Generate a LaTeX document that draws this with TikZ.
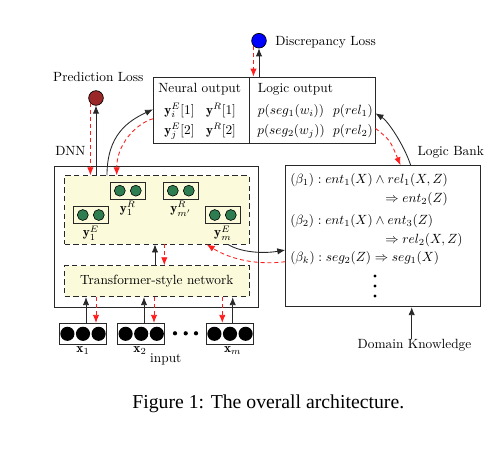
\documentclass[tikz,border=0pt]{standalone}
\usepackage{fontspec}
\newfontfamily\capfont{Liberation Serif}
\usetikzlibrary{arrows.meta,calc}
\definecolor{boxyellow}{RGB}{251,251,220}
\definecolor{dotgreen}{RGB}{46,125,80}
\definecolor{lossred}{RGB}{155,40,40}
\definecolor{fbred}{RGB}{255,30,30}
\definecolor{linegray}{RGB}{40,40,40}
\begin{document}
\begin{tikzpicture}[x=0.75pt,y=-0.75pt,
  frame/.style={draw=linegray, line width=0.65pt, inner sep=0, rectangle},
  pxsize/.style 2 args={minimum width=#1*0.75pt, minimum height=#2*0.75pt},
  dashbox/.style={draw=linegray, fill=boxyellow, dash pattern=on 4pt off 2.6pt, line width=0.65pt, inner sep=0, rectangle},
  lbl/.style={inner sep=0, anchor=base},
  lblw/.style={inner sep=0, anchor=base west},
  fwd/.style={draw=linegray, line width=0.65pt, -{Latex[length=6pt,width=4.8pt]}},
  bwd/.style={draw=fbred, line width=0.65pt, dash pattern=on 3pt off 2.2pt, -{Latex[length=6pt,width=4.8pt]}},
  lossdot/.style={circle, draw, line width=0.5pt, minimum size=11pt, inner sep=0},
  vecbox/.style={draw=linegray, line width=0.65pt, inner sep=0, rectangle},
  gdot/.style={fill=dotgreen, draw=black, line width=0.45pt},
  bdot/.style={fill=black}
]
\path[use as bounding box] (0,0) rectangle (500,450);

% ---- main boxes
\node[frame, pxsize={95.5}{66.5}] (neural) at (201.25,110.25) {};
\node[frame, pxsize={126}{66.5}] (logic) at (312,110.25) {};
\node[frame, pxsize={204}{141}] (dnn) at (156,236.5) {};
\node[dashbox, pxsize={184.5}{68.3}] (inner) at (156.75,209.85) {};
\node[dashbox, pxsize={184.5}{31}] (trans) at (156.75,281.2) {Transformer-style network};
\node[frame, pxsize={194.3}{141}] (bank) at (382.85,236.2) {};

% ---- loss circles
\node[lossdot, fill=lossred] (pred) at (96,98) {};
\node[lossdot, fill=blue] (disc) at (259,40.7) {};

% ---- labels
\node[lbl] (predl) at (98.3,81.7) {Prediction Loss};
\node[lblw] (dnnl) at (55,155) {DNN};
\node[lblw] (discl) at (275,45.7) {Discrepancy Loss};
\node[lblw] (bankl) at (417.3,155) {Logic Bank};
\node[lbl] (dk) at (414.5,348.3) {Domain Knowledge};
\node[lbl] (inputl) at (165.8,362.7) {input};
\node[lbl] (cap) at (268.3,408.3) {\capfont\fontsize{14.8pt}{17pt}\selectfont Figure 1: The overall architecture.};

% ---- output texts
\node[lbl] (nt) at (199.7,92.7) {Neural output};
\node[lbl] (n11) at (179.5,114) {$\mathbf{y}_i^E[1]$};
\node[lbl] (n12) at (221,114) {$\mathbf{y}^R[1]$};
\node[lbl] (n21) at (179.5,134.5) {$\mathbf{y}_j^E[2]$};
\node[lbl] (n22) at (221,134.5) {$\mathbf{y}^R[2]$};
\node[lbl] (lt) at (295.5,92.7) {Logic output};
\node[lbl] (l11) at (291,114) {$p(seg_1(w_i))$};
\node[lbl] (l12) at (353,114) {$p(rel_1)$};
\node[lbl] (l21) at (291,134.5) {$p(seg_2(w_j))$};
\node[lbl] (l22) at (353,134.5) {$p(rel_2)$};

% ---- rules
\node[lblw] (r1) at (290,183.3) {$(\beta_1): ent_1(X) \wedge rel_1(X,Z)$};
\node[lblw] (r1b) at (385,202.7) {$\Rightarrow ent_2(Z)$};
\node[lblw] (r2) at (290,224) {$(\beta_2): ent_1(X) \wedge ent_3(Z)$};
\node[lblw] (r2b) at (385,243.3) {$\Rightarrow rel_2(X,Z)$};
\node[lblw] (rk) at (290,261.7) {$(\beta_k): seg_2(Z) \Rightarrow seg_1(X)$};
\foreach \yy in {276,286,296} \fill (375,\yy) circle[radius=1.3pt];

% ---- output vectors in DNN
\node[vecbox, pxsize={35}{16.7}] (y1E) at (90.8,215) {};
\node[vecbox, pxsize={35}{16.7}] (y1R) at (127.8,190.7) {};
\node[vecbox, pxsize={35}{16.7}] (ymR) at (180.8,190.7) {};
\node[vecbox, pxsize={35}{16.7}] (ymE) at (222.8,215) {};
\foreach \b in {y1E,y1R,ymR,ymE}{
  \filldraw[gdot] ($(\b)+(-8,0)$) circle[radius=4.1pt];
  \filldraw[gdot] ($(\b)+(8,0)$) circle[radius=4.1pt];
}
\node[anchor=north, inner sep=1.2pt] (y1El) at (y1E.south) {$\mathbf{y}_1^E$};
\node[anchor=north, inner sep=1.2pt] (y1Rl) at (y1R.south) {$\mathbf{y}_1^R$};
\node[anchor=north, inner sep=1.2pt] (ymRl) at (ymR.south) {$\mathbf{y}_{m'}^R$};
\node[anchor=north, inner sep=1.2pt] (ymEl) at (ymE.south) {$\mathbf{y}_m^E$};

% ---- inputs
\node[vecbox, pxsize={47.4}{21}] (x1) at (83,333.8) {};
\node[vecbox, pxsize={47.4}{21}] (x2) at (141.2,333.8) {};
\node[vecbox, pxsize={47.4}{21}] (xm) at (230,333.8) {};
\foreach \b in {x1,x2,xm}{
  \foreach \dx in {-15.6,0,15.6}
    \fill[bdot] ($(\b)+(\dx,0)$) circle[radius=5.3pt];
}
\foreach \xx in {175,185.7,196} \fill (\xx,333.3) circle[radius=1.6pt];
\node[anchor=north, inner sep=1.5pt] (x1l) at (x1.south) {$\mathbf{x}_1$};
\node[anchor=north, inner sep=1.5pt] (x2l) at (x2.south -| 140,0) {$\mathbf{x}_2$};
\node[anchor=north, inner sep=1.5pt] (xml) at (xm.south -| 232.7,0) {$\mathbf{x}_m$};

% ---- connectors: inputs <-> transformer
\draw[fwd] (x1.north -| 86,0) -- (trans.south -| 86,0);
\draw[bwd] (trans.south -| 96,0) -- (x1.north -| 96,0);
\draw[fwd] (x2.north -| 144,0) -- (trans.south -| 144,0);
\draw[bwd] (trans.south -| 154,0) -- (x2.north -| 154,0);
\draw[fwd] (xm.north -| 232.7,0) -- (trans.south -| 232.7,0);
\draw[bwd] (trans.south -| 222.3,0) -- (xm.north -| 222.3,0);

% ---- transformer <-> inner
\draw[fwd] (trans.north -| 155,0) -- (inner.south -| 155,0);
\draw[bwd] (inner.south -| 164.3,0) -- (trans.north -| 164.3,0);

% ---- prediction loss
\draw[fwd] (pred.south |- inner.north) -- (pred.south);
\draw[bwd] (pred.223) -- (pred.223 |- inner.north);

% ---- inner <-> neural output
\draw[fwd] (inner.north -| 107,0) .. controls (107,135) and (128,121) .. (neural.west |- 0,109.3);
\draw[bwd] (neural.west |- 0,118.7) .. controls (135,124) and (116.7,145) .. (inner.north -| 116.7,0);

% ---- discrepancy loss
\draw[fwd] (disc.south |- logic.north) -- (disc.south);
\draw[bwd] (disc.224) -- (disc.224 |- logic.north);

% ---- logic bank <-> logic output
\draw[fwd] (bank.north -| 410.7,0) .. controls (404,145) and (388,121) .. (logic.east |- 0,113.3);
\draw[bwd] (logic.east |- 0,128.3) .. controls (390,140) .. (bank.north -| 400.5,0);

% ---- DNN <-> logic bank
\draw[fwd] (inner.south -| 228,0) .. controls (240,252) and (262,254) .. (bank.west |- 0,250);
\draw[bwd] (bank.west |- 0,261.7) .. controls (250,266) and (225,256) .. (inner.south -| 206.7,0);

% ---- domain knowledge
\draw[fwd] (dk.north -| 411.7,0) -- (bank.south -| 411.7,0);
\end{tikzpicture}
\end{document}
